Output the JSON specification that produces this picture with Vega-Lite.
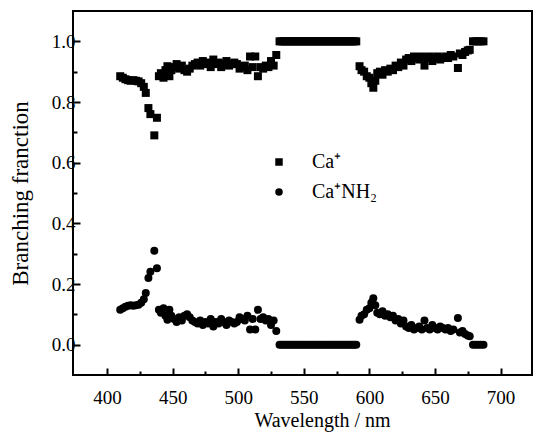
{
  "$schema": "https://vega.github.io/schema/vega-lite/v6.json",
  "width": 459,
  "height": 364,
  "autosize": {"type": "none"},
  "padding": {"left": 73, "top": 11, "right": 2, "bottom": 57},
  "background": "white",
  "config": {
    "view": {"stroke": "black", "strokeWidth": 2},
    "font": "Liberation Serif"
  },
  "data": {"values": [
    {"wl": 410, "ca": 0.885, "canh2": 0.115},
    {"wl": 412, "ca": 0.880, "canh2": 0.120},
    {"wl": 414, "ca": 0.875, "canh2": 0.125},
    {"wl": 416, "ca": 0.872, "canh2": 0.128},
    {"wl": 418, "ca": 0.870, "canh2": 0.130},
    {"wl": 420, "ca": 0.872, "canh2": 0.128},
    {"wl": 422, "ca": 0.870, "canh2": 0.130},
    {"wl": 424, "ca": 0.868, "canh2": 0.132},
    {"wl": 426, "ca": 0.862, "canh2": 0.138},
    {"wl": 428, "ca": 0.850, "canh2": 0.150},
    {"wl": 429.5, "ca": 0.830, "canh2": 0.170},
    {"wl": 431.5, "ca": 0.780, "canh2": 0.220},
    {"wl": 433, "ca": 0.760, "canh2": 0.240},
    {"wl": 436, "ca": 0.690, "canh2": 0.310},
    {"wl": 438, "ca": 0.748, "canh2": 0.252},
    {"wl": 439.5, "ca": 0.885, "canh2": 0.115},
    {"wl": 441, "ca": 0.895, "canh2": 0.105},
    {"wl": 443, "ca": 0.880, "canh2": 0.120},
    {"wl": 444.5, "ca": 0.905, "canh2": 0.095},
    {"wl": 446, "ca": 0.918, "canh2": 0.082},
    {"wl": 447.5, "ca": 0.885, "canh2": 0.115},
    {"wl": 449, "ca": 0.905, "canh2": 0.095},
    {"wl": 451, "ca": 0.915, "canh2": 0.085},
    {"wl": 453, "ca": 0.925, "canh2": 0.075},
    {"wl": 455, "ca": 0.910, "canh2": 0.090},
    {"wl": 457, "ca": 0.920, "canh2": 0.080},
    {"wl": 459, "ca": 0.905, "canh2": 0.095},
    {"wl": 461, "ca": 0.900, "canh2": 0.100},
    {"wl": 463, "ca": 0.910, "canh2": 0.090},
    {"wl": 465, "ca": 0.920, "canh2": 0.080},
    {"wl": 467, "ca": 0.925, "canh2": 0.075},
    {"wl": 469, "ca": 0.930, "canh2": 0.070},
    {"wl": 471, "ca": 0.920, "canh2": 0.080},
    {"wl": 473, "ca": 0.935, "canh2": 0.065},
    {"wl": 475, "ca": 0.925, "canh2": 0.075},
    {"wl": 477, "ca": 0.930, "canh2": 0.070},
    {"wl": 479, "ca": 0.915, "canh2": 0.085},
    {"wl": 481, "ca": 0.940, "canh2": 0.060},
    {"wl": 483, "ca": 0.925, "canh2": 0.075},
    {"wl": 485, "ca": 0.930, "canh2": 0.070},
    {"wl": 487, "ca": 0.915, "canh2": 0.085},
    {"wl": 489, "ca": 0.925, "canh2": 0.075},
    {"wl": 491, "ca": 0.935, "canh2": 0.065},
    {"wl": 493, "ca": 0.920, "canh2": 0.080},
    {"wl": 495, "ca": 0.925, "canh2": 0.075},
    {"wl": 497, "ca": 0.930, "canh2": 0.070},
    {"wl": 499, "ca": 0.925, "canh2": 0.075},
    {"wl": 501, "ca": 0.910, "canh2": 0.090},
    {"wl": 503, "ca": 0.915, "canh2": 0.085},
    {"wl": 505, "ca": 0.920, "canh2": 0.080},
    {"wl": 507, "ca": 0.905, "canh2": 0.095},
    {"wl": 509, "ca": 0.950, "canh2": 0.050},
    {"wl": 511, "ca": 0.915, "canh2": 0.085},
    {"wl": 513, "ca": 0.950, "canh2": 0.050},
    {"wl": 515, "ca": 0.885, "canh2": 0.115},
    {"wl": 517, "ca": 0.915, "canh2": 0.085},
    {"wl": 519, "ca": 0.910, "canh2": 0.090},
    {"wl": 521, "ca": 0.920, "canh2": 0.080},
    {"wl": 523, "ca": 0.915, "canh2": 0.085},
    {"wl": 525, "ca": 0.935, "canh2": 0.065},
    {"wl": 527, "ca": 0.920, "canh2": 0.080},
    {"wl": 529, "ca": 0.955, "canh2": 0.045},
    {"wl": 531.5, "ca": 1, "canh2": 0},
    {"wl": 533, "ca": 1, "canh2": 0},
    {"wl": 534.5, "ca": 1, "canh2": 0},
    {"wl": 536, "ca": 1, "canh2": 0},
    {"wl": 537.5, "ca": 1, "canh2": 0},
    {"wl": 539, "ca": 1, "canh2": 0},
    {"wl": 540.5, "ca": 1, "canh2": 0},
    {"wl": 542, "ca": 1, "canh2": 0},
    {"wl": 543.5, "ca": 1, "canh2": 0},
    {"wl": 545, "ca": 1, "canh2": 0},
    {"wl": 546.5, "ca": 1, "canh2": 0},
    {"wl": 548, "ca": 1, "canh2": 0},
    {"wl": 549.5, "ca": 1, "canh2": 0},
    {"wl": 551, "ca": 1, "canh2": 0},
    {"wl": 552.5, "ca": 1, "canh2": 0},
    {"wl": 554, "ca": 1, "canh2": 0},
    {"wl": 555.5, "ca": 1, "canh2": 0},
    {"wl": 557, "ca": 1, "canh2": 0},
    {"wl": 558.5, "ca": 1, "canh2": 0},
    {"wl": 560, "ca": 1, "canh2": 0},
    {"wl": 561.5, "ca": 1, "canh2": 0},
    {"wl": 563, "ca": 1, "canh2": 0},
    {"wl": 564.5, "ca": 1, "canh2": 0},
    {"wl": 566, "ca": 1, "canh2": 0},
    {"wl": 567.5, "ca": 1, "canh2": 0},
    {"wl": 569, "ca": 1, "canh2": 0},
    {"wl": 570.5, "ca": 1, "canh2": 0},
    {"wl": 572, "ca": 1, "canh2": 0},
    {"wl": 573.5, "ca": 1, "canh2": 0},
    {"wl": 575, "ca": 1, "canh2": 0},
    {"wl": 576.5, "ca": 1, "canh2": 0},
    {"wl": 578, "ca": 1, "canh2": 0},
    {"wl": 579.5, "ca": 1, "canh2": 0},
    {"wl": 581, "ca": 1, "canh2": 0},
    {"wl": 582.5, "ca": 1, "canh2": 0},
    {"wl": 584, "ca": 1, "canh2": 0},
    {"wl": 585.5, "ca": 1, "canh2": 0},
    {"wl": 587, "ca": 1, "canh2": 0},
    {"wl": 588.5, "ca": 1, "canh2": 0},
    {"wl": 590, "ca": 1, "canh2": 0},
    {"wl": 592.5, "ca": 0.918, "canh2": 0.082},
    {"wl": 594, "ca": 0.905, "canh2": 0.095},
    {"wl": 596, "ca": 0.900, "canh2": 0.100},
    {"wl": 598, "ca": 0.885, "canh2": 0.115},
    {"wl": 600, "ca": 0.880, "canh2": 0.120},
    {"wl": 601.5, "ca": 0.862, "canh2": 0.138},
    {"wl": 603, "ca": 0.847, "canh2": 0.153},
    {"wl": 604.5, "ca": 0.870, "canh2": 0.130},
    {"wl": 606, "ca": 0.895, "canh2": 0.105},
    {"wl": 608, "ca": 0.900, "canh2": 0.100},
    {"wl": 610, "ca": 0.890, "canh2": 0.110},
    {"wl": 612, "ca": 0.905, "canh2": 0.095},
    {"wl": 614, "ca": 0.900, "canh2": 0.100},
    {"wl": 616, "ca": 0.910, "canh2": 0.090},
    {"wl": 618, "ca": 0.905, "canh2": 0.095},
    {"wl": 620, "ca": 0.920, "canh2": 0.080},
    {"wl": 622, "ca": 0.915, "canh2": 0.085},
    {"wl": 624, "ca": 0.930, "canh2": 0.070},
    {"wl": 626, "ca": 0.920, "canh2": 0.080},
    {"wl": 628, "ca": 0.940, "canh2": 0.060},
    {"wl": 630, "ca": 0.945, "canh2": 0.055},
    {"wl": 632, "ca": 0.935, "canh2": 0.065},
    {"wl": 634, "ca": 0.950, "canh2": 0.050},
    {"wl": 636, "ca": 0.945, "canh2": 0.055},
    {"wl": 638, "ca": 0.940, "canh2": 0.060},
    {"wl": 640, "ca": 0.950, "canh2": 0.050},
    {"wl": 642, "ca": 0.920, "canh2": 0.080},
    {"wl": 644, "ca": 0.945, "canh2": 0.055},
    {"wl": 646, "ca": 0.950, "canh2": 0.050},
    {"wl": 648, "ca": 0.935, "canh2": 0.065},
    {"wl": 650, "ca": 0.945, "canh2": 0.055},
    {"wl": 652, "ca": 0.950, "canh2": 0.050},
    {"wl": 654, "ca": 0.940, "canh2": 0.060},
    {"wl": 656, "ca": 0.945, "canh2": 0.055},
    {"wl": 658, "ca": 0.950, "canh2": 0.050},
    {"wl": 660, "ca": 0.945, "canh2": 0.055},
    {"wl": 662, "ca": 0.955, "canh2": 0.045},
    {"wl": 664, "ca": 0.950, "canh2": 0.050},
    {"wl": 667.5, "ca": 0.912, "canh2": 0.088},
    {"wl": 669, "ca": 0.960, "canh2": 0.040},
    {"wl": 671, "ca": 0.955, "canh2": 0.045},
    {"wl": 673, "ca": 0.965, "canh2": 0.035},
    {"wl": 675, "ca": 0.970, "canh2": 0.030},
    {"wl": 676.5, "ca": 0.972, "canh2": 0.028},
    {"wl": 679, "ca": 1, "canh2": 0},
    {"wl": 681, "ca": 1, "canh2": 0},
    {"wl": 683, "ca": 1, "canh2": 0},
    {"wl": 685, "ca": 1, "canh2": 0},
    {"wl": 687, "ca": 1, "canh2": 0}
  ]},
  "transform": [{"fold": ["ca", "canh2"], "as": ["series", "bf"]}],
  "mark": {"type": "point", "filled": true, "opacity": 1, "size": 64, "color": "black", "strokeWidth": 0},
  "encoding": {
    "x": {
      "field": "wl", "type": "quantitative",
      "scale": {"domain": [374, 724], "nice": false, "zero": false},
      "axis": {
        "title": "Wavelength / nm",
        "titleFont": "Liberation Serif", "titleFontSize": 20, "titleFontWeight": "normal", "titleColor": "black",
        "titleX": 249, "titlePadding": 3,
        "values": [400, 425, 450, 475, 500, 525, 550, 575, 600, 625, 650, 675, 700],
        "labelExpr": "datum.value % 50 === 0 ? datum.label : ''",
        "labelFont": "Liberation Serif", "labelFontSize": 19, "labelColor": "black",
        "labelPadding": 20,
        "domain": false, "grid": false,
        "tickColor": "black", "tickWidth": 2,
        "tickSize": {"condition": {"test": "datum.value % 50 === 0", "value": -7}, "value": -4}
      }
    },
    "y": {
      "field": "bf", "type": "quantitative",
      "scale": {"domain": [-0.1, 1.1], "nice": false, "zero": false},
      "axis": {
        "title": "Branching franction",
        "titleFont": "Liberation Serif", "titleFontSize": 23, "titleFontWeight": "normal", "titleColor": "black",
        "titlePadding": 19,
        "values": [0, 0.1, 0.2, 0.3, 0.4, 0.5, 0.6, 0.7, 0.8, 0.9, 1.0],
        "labelExpr": "round(datum.value * 10) % 2 === 0 ? format(datum.value, '.1f') : ''",
        "labelFont": "Liberation Serif", "labelFontSize": 19, "labelColor": "black",
        "labelPadding": 5,
        "domain": false, "grid": false,
        "tickColor": "black", "tickWidth": 2,
        "tickSize": {"condition": {"test": "round(datum.value * 10) % 2 === 0", "value": -7}, "value": -4}
      }
    },
    "shape": {
      "field": "series", "type": "nominal",
      "scale": {"domain": ["ca", "canh2"], "range": ["square", "circle"]},
      "legend": {
        "orient": "none", "legendX": 196, "legendY": 141,
        "title": null, "padding": 0,
        "labelExpr": "datum.label == 'ca' ? 'Ca⁺' : 'Ca⁺NH₂'",
        "labelFont": "Liberation Serif", "labelFontSize": 20, "labelColor": "black",
        "labelOffset": 23, "rowPadding": 10,
        "symbolSize": 56, "symbolFillColor": "black", "symbolStrokeWidth": 0
      }
    }
  }
}
